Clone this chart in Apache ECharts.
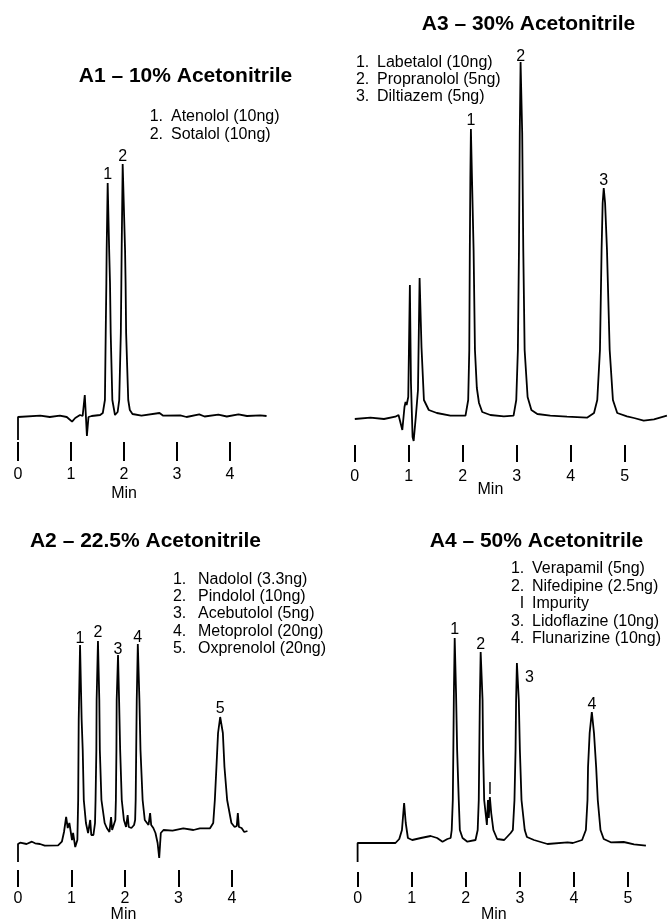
<!DOCTYPE html>
<html><head><meta charset="utf-8">
<script src="https://cdn.jsdelivr.net/npm/echarts@6/dist/echarts.min.js"></script>
<style>html,body{margin:0;padding:0;background:#fff}#c{width:668px;height:920px}</style>
</head><body><div id="c"></div>
<script>
// ---------------- DATA ----------------
const a1Title = 'A1 – 10% Acetonitrile';
const a2Title = 'A2 – 22.5% Acetonitrile';
const a3Title = 'A3 – 30% Acetonitrile';
const a4Title = 'A4 – 50% Acetonitrile';

const a1Keys = ['1.', '2.'];
const a1Compounds = ['Atenolol (10ng)', 'Sotalol (10ng)'];
const a2Keys = ['1.', '2.', '3.', '4.', '5.'];
const a2Compounds = ['Nadolol (3.3ng)', 'Pindolol (10ng)', 'Acebutolol (5ng)', 'Metoprolol (20ng)', 'Oxprenolol (20ng)'];
const a3Keys = ['1.', '2.', '3.'];
const a3Compounds = ['Labetalol (10ng)', 'Propranolol (5ng)', 'Diltiazem (5ng)'];
const a4Keys = ['1.', '2.', 'I', '3.', '4.'];
const a4Compounds = ['Verapamil (5ng)', 'Nifedipine (2.5ng)', 'Impurity', 'Lidoflazine (10ng)', 'Flunarizine (10ng)'];

const a1Ticks = [0, 1, 2, 3, 4];
const a2Ticks = [0, 1, 2, 3, 4];
const a3Ticks = [0, 1, 2, 3, 4, 5];
const a4Ticks = [0, 1, 2, 3, 4, 5];
const axisName = 'Min';

// end of each recorded run (min)
const a1RunEnd = 4.7;
const a2RunEnd = 4.3;
const a3RunEnd = 5.8;
const a4RunEnd = 5.35;

// chromatogram traces: time (min) and detector response (arbitrary units)
const a1Time = [0, 0, 0.42, 0.60, 0.79, 0.92, 1.02, 1.08, 1.17, 1.22, 1.26, 1.28, 1.30, 1.33, 1.39, 1.55, 1.60, 1.64, 1.655, 1.667, 1.673, 1.692, 1.72, 1.736, 1.749, 1.78, 1.83, 1.88, 1.91, 1.94, 1.95, 1.956, 1.975, 2.02, 2.03, 2.04, 2.08, 2.11, 2.16, 2.33, 2.67, 2.74, 3.06, 3.18, 3.42, 3.52, 3.78, 3.94, 4.16, 4.32, 4.57, 4.69];
const a1Signal = [-23, 0, 1.3, 0, 1.3, 0, -4.7, -1, 2, 1, 22, 2, -19, 0, 1, 2, 4, 17, 84, 134, 167, 234, 167, 134, 84, 17, 2, 5, 17, 84, 134, 167, 253, 167, 134, 84, 17, 7, 3, 1.3, 4, 1.3, 1.7, 0, 2.7, 0.5, 2.3, 0.5, 2.7, 1, 1.7, 1];

const a3Time = [0, 0.29, 0.54, 0.75, 0.81, 0.88, 0.92, 0.94, 0.96, 0.99, 1.02, 1.04, 1.07, 1.09, 1.13, 1.17, 1.20, 1.235, 1.28, 1.37, 1.52, 1.77, 2.05, 2.10, 2.12, 2.13, 2.14, 2.15, 2.17, 2.20, 2.225, 2.26, 2.30, 2.36, 2.51, 2.76, 2.94, 2.99, 3.02, 3.04, 3.055, 3.07, 3.10, 3.12, 3.145, 3.20, 3.27, 3.38, 3.62, 3.93, 4.30, 4.43, 4.49, 4.54, 4.57, 4.59, 4.61, 4.635, 4.67, 4.72, 4.78, 4.86, 5.04, 5.17, 5.35, 5.54, 5.78];
const a3Signal = [-1, 0.3, -1, 1.3, 3, -12, 11, 16, 13, 21, 133, 35, -19, -23, 1.3, 28, 140, 71, 18, 8, 5, 2.3, 2.3, 18, 68, 168, 240, 289, 240, 168, 68, 30, 15, 6, 3, 1.7, 2.3, 18, 68, 168, 285, 356, 285, 168, 68, 21, 8, 4, 2.3, 1.3, 0.3, 5, 18, 68, 168, 215, 230, 215, 168, 68, 18, 5, 1.7, 0, -2.7, -1.3, 2.3];

const a2Time = [0, 0, 0.04, 0.16, 0.26, 0.32, 0.41, 0.50, 0.75, 0.82, 0.86, 0.90, 0.93, 0.96, 0.98, 1.01, 1.03, 1.07, 1.11, 1.125, 1.135, 1.16, 1.19, 1.21, 1.23, 1.27, 1.31, 1.35, 1.37, 1.41, 1.44, 1.45, 1.465, 1.47, 1.495, 1.52, 1.53, 1.56, 1.62, 1.66, 1.71, 1.74, 1.76, 1.79, 1.82, 1.83, 1.84, 1.845, 1.87, 1.89, 1.91, 1.94, 1.98, 2.02, 2.05, 2.07, 2.12, 2.17, 2.19, 2.20, 2.21, 2.22, 2.24, 2.27, 2.29, 2.33, 2.37, 2.44, 2.47, 2.49, 2.53, 2.57, 2.61, 2.64, 2.67, 2.72, 2.89, 3.09, 3.28, 3.40, 3.59, 3.65, 3.68, 3.71, 3.74, 3.78, 3.83, 3.86, 3.91, 3.99, 4.05, 4.09, 4.11, 4.13, 4.18, 4.23, 4.29];
const a2Signal = [-18, 0, 1.3, 0, 2.3, 0.7, 0, -1.7, -1.3, 2.3, 12, 27, 16, 21, 22, 4, 11, -3, 4, 44, 124, 199, 124, 94, 44, 21, 11, 24, 9, 9, 21, 44, 94, 144, 203, 144, 94, 44, 21, 16, 12, 27, 14, 14, 24, 44, 94, 144, 189, 144, 94, 44, 24, 17, 29, 17, 16, 19, 24, 44, 94, 144, 200, 144, 94, 44, 24, 19, 31, 19, 16, 11, 1, -14, 11, 14, 13.3, 15.7, 14, 15.7, 15.7, 21, 44, 77, 111, 127, 111, 77, 44, 21, 17, 18, 31, 17, 16, 12, 13];

const a4Time = [0, 0, 0.30, 0.70, 0.77, 0.82, 0.86, 0.89, 0.93, 1.01, 1.17, 1.35, 1.47, 1.57, 1.66, 1.72, 1.74, 1.76, 1.77, 1.78, 1.795, 1.82, 1.84, 1.87, 1.89, 1.94, 2.03, 2.18, 2.22, 2.24, 2.25, 2.26, 2.275, 2.31, 2.32, 2.34, 2.37, 2.39, 2.41, 2.425, 2.445, 2.47, 2.51, 2.58, 2.71, 2.83, 2.87, 2.90, 2.92, 2.93, 2.945, 2.98, 3.00, 3.03, 3.09, 3.13, 3.26, 3.51, 3.88, 3.98, 4.15, 4.22, 4.25, 4.26, 4.29, 4.33, 4.37, 4.41, 4.44, 4.49, 4.55, 4.68, 4.92, 4.95, 5.11, 5.33];
const a4Signal = [-19, 0, 0, 0, 4, 13, 40, 20, 5, 3, 5, 7, 5, 1.3, 4, 5, 13, 43, 93, 150, 205, 150, 93, 43, 13, 5, 1.3, 3, 13, 43, 93, 143, 191, 143, 93, 43, 28, 18, 43, 25, 46, 30, 13, 4, 3, 10, 13, 43, 93, 143, 180, 143, 93, 43, 13, 6, 3, -1, 0.7, 0, 3, 13, 43, 76, 110, 131, 110, 76, 43, 13, 4, 0.7, 1, 3, -1.3, -2.7];

// peak annotations
const a1PeakLabel = ['1', '2'];
const a1PeakTime = [1.692, 1.975];
const a1PeakHeight = [234, 253];
const a3PeakLabel = ['1', '2', '3'];
const a3PeakTime = [2.15, 3.07, 4.61];
const a3PeakHeight = [289, 356, 230];
const a2PeakLabel = ['1', '2', '3', '4', '5'];
const a2PeakTime = [1.16, 1.495, 1.87, 2.24, 3.78];
const a2PeakHeight = [199, 203, 189, 200, 127];
const a4PeakLabel = ['1', '2', 'I', '3', '4'];
const a4PeakTime = [1.795, 2.275, 2.445, 2.945, 4.33];
const a4PeakHeight = [205, 191, 46, 180, 131];

// ---------------- LAYOUT / STYLE ----------------
const FONT = '"Liberation Sans", Arial, Helvetica, sans-serif';
const panels = [
  { title: a1Title, keys: a1Keys, names: a1Compounds, ticks: a1Ticks, runEnd: a1RunEnd, time: a1Time, sig: a1Signal,
    pl: a1PeakLabel, pt: a1PeakTime, ph: a1PeakHeight,
    grid: { left: 18, top: 147, width: 249.1, height: 295 }, yMin: -25, yMax: 270,
    tickLen: 19, labelMargin: 25, nameGap: 44, namePadRight: 37,
    titlePos: [185.5, 76], keyRight: 163, nameX: 171, legTop: 108, lh: 18, labDist: [0, -1] },
  { title: a3Title, keys: a3Keys, names: a3Compounds, ticks: a3Ticks, runEnd: a3RunEnd, time: a3Time, sig: a3Signal,
    pl: a3PeakLabel, pt: a3PeakTime, ph: a3PeakHeight,
    grid: { left: 354.8, top: 48, width: 313.2, height: 397 }, yMin: -27, yMax: 370,
    tickLen: 17, labelMargin: 23.5, nameGap: 37, namePadRight: 42,
    titlePos: [528.5, 24], keyRight: 369.3, nameX: 377, legTop: 54.5, lh: 17, labDist: [0, -3, -1] },
  { title: a2Title, keys: a2Keys, names: a2Compounds, ticks: a2Ticks, runEnd: a2RunEnd, time: a2Time, sig: a2Signal,
    pl: a2PeakLabel, pt: a2PeakTime, ph: a2PeakHeight,
    grid: { left: 18, top: 629, width: 230, height: 241 }, yMin: -26, yMax: 215,
    tickLen: 17, labelMargin: 20.5, nameGap: 37, namePadRight: 19,
    titlePos: [145.5, 541.5], keyRight: 186.3, nameX: 198, legTop: 570.8, lh: 17.3, labDist: [-2, 0, -3, -2, 0] },
  { title: a4Title, keys: a4Keys, names: a4Compounds, ticks: a4Ticks, runEnd: a4RunEnd, time: a4Time, sig: a4Signal,
    pl: a4PeakLabel, pt: a4PeakTime, ph: a4PeakHeight,
    grid: { left: 357.6, top: 628, width: 289.4, height: 244 }, yMin: -29, yMax: 215,
    tickLen: 15, labelMargin: 18.5, nameGap: 35, namePadRight: 17,
    titlePos: [536.5, 541.5], keyRight: 524.3, nameX: 532, legTop: 560.3, lh: 17.5, labDist: [0.5, -1, -1, 0, -1],
    special: { 3: { position: 'right', distance: 8, offset: [0, 15] } } }
];

const grids = [], xAxes = [], yAxes = [], series = [], graphics = [];
panels.forEach((p, i) => {
  grids.push(Object.assign({ containLabel: false, outerBoundsMode: 'none' }, p.grid));
  xAxes.push({
    type: 'value', gridIndex: i, position: 'bottom', min: p.ticks[0], max: p.runEnd,
    axisLine: { show: false, onZero: false }, splitLine: { show: false },
    axisTick: { show: true, length: p.tickLen, inside: false, customValues: p.ticks, lineStyle: { color: '#000', width: 2 } },
    axisLabel: { show: true, customValues: p.ticks, margin: p.labelMargin, fontSize: 16, color: '#000', fontFamily: FONT },
    name: axisName, nameLocation: 'middle', nameGap: p.nameGap, nameMoveOverlap: false,
    nameTextStyle: { fontSize: 16, color: '#000', fontFamily: FONT, padding: [0, p.namePadRight, 0, 0] }
  });
  yAxes.push({ type: 'value', gridIndex: i, min: p.yMin, max: p.yMax, show: false });
  series.push({
    type: 'line', xAxisIndex: i, yAxisIndex: i, clip: false, symbol: 'none', showSymbol: false,
    lineStyle: { color: '#000', width: 1.8 }, silent: true, animation: false,
    data: p.time.map((t, k) => [t, p.sig[k]])
  });
  series.push({
    type: 'scatter', xAxisIndex: i, yAxisIndex: i, clip: false, symbolSize: 0, silent: true, animation: false,
    itemStyle: { color: '#000', opacity: 1 },
    data: p.pt.map((t, k) => {
      const lab = Object.assign({ show: true, position: 'top', distance: p.labDist[k],
        formatter: p.pl[k], fontSize: 16, color: '#000', opacity: 1, fontFamily: FONT },
        (p.special && p.special[k]) || {});
      return { value: [t, p.ph[k]], label: lab };
    })
  });
  graphics.push({
    type: 'text', x: p.titlePos[0], y: p.titlePos[1], silent: true,
    style: { text: p.title, font: 'bold 21px ' + FONT, fill: '#000',
      align: 'center', verticalAlign: 'middle', textAlign: 'center', textVerticalAlign: 'middle' }
  });
  graphics.push({
    type: 'text', x: p.keyRight, y: p.legTop, silent: true,
    style: { text: p.keys.join('\n'), font: '16px ' + FONT, fill: '#000', lineHeight: p.lh,
      align: 'right', verticalAlign: 'top', textAlign: 'right', textVerticalAlign: 'top' }
  });
  graphics.push({
    type: 'text', x: p.nameX, y: p.legTop, silent: true,
    style: { text: p.names.join('\n'), font: '16px ' + FONT, fill: '#000', lineHeight: p.lh,
      align: 'left', verticalAlign: 'top', textAlign: 'left', textVerticalAlign: 'top' }
  });
});

const chart = echarts.init(document.getElementById('c'), null, { renderer: 'canvas' });
chart.setOption({
  backgroundColor: '#fff',
  animation: false,
  textStyle: { fontFamily: FONT },
  grid: grids, xAxis: xAxes, yAxis: yAxes, series: series, graphic: graphics
});
</script></body></html>
